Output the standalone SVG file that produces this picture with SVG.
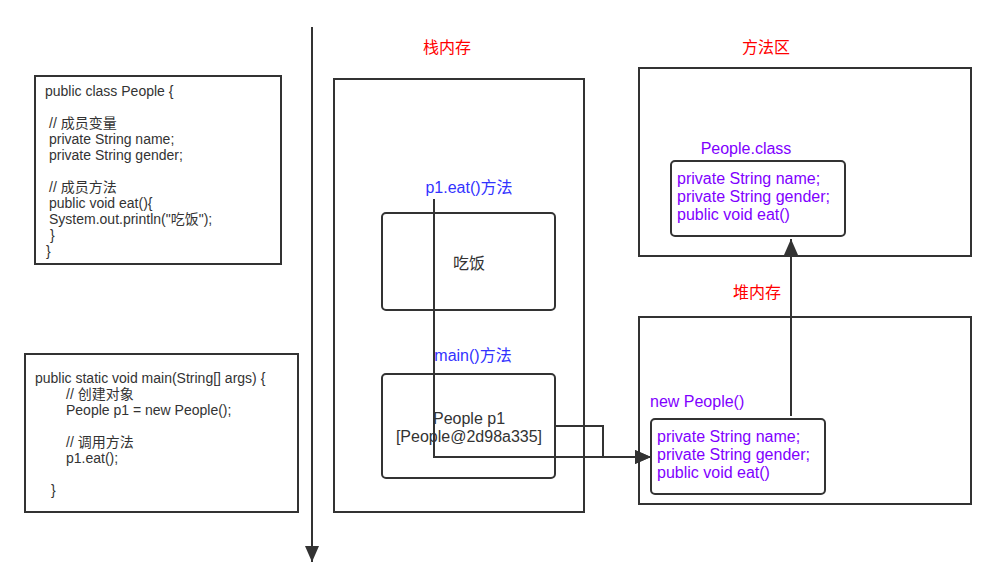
<svg xmlns="http://www.w3.org/2000/svg" width="996" height="587" viewBox="0 0 996 587">
<style>
.box{fill:#fff;stroke:#333;stroke-width:2}
.rbox{fill:#fff;stroke:#333;stroke-width:2}
.code{font-family:"Liberation Sans","Noto Sans CJK SC",sans-serif;font-size:14px;fill:#333}
.lbl{font-family:"Liberation Sans","Noto Sans CJK SC",sans-serif;font-size:16px}
.red{fill:#ff0000}
.blue{fill:#3333ff}
.pur{fill:#7f00ff}
.gray{fill:#333}
.conn{fill:none;stroke:#333;stroke-width:2}
</style>
<defs>
<marker id="ahb" viewBox="0 0 16 14" refX="16" refY="7" markerWidth="16" markerHeight="14" markerUnits="userSpaceOnUse" orient="auto">
<path d="M0,0 L16,7 L0,14 Z" fill="#333"/>
</marker>
</defs>

<g id="timeline">
<line x1="312" y1="27" x2="312" y2="562" class="conn" marker-end="url(#ahb)"/>
</g>

<g id="class-code">
<rect x="35" y="76" width="246" height="188" class="box"/>
<text class="code">
<tspan x="45" y="96">public class People {</tspan>
<tspan x="49" y="128">// 成员变量</tspan>
<tspan x="49" y="144">private String name;</tspan>
<tspan x="49" y="160">private String gender;</tspan>
<tspan x="49" y="192">// 成员方法</tspan>
<tspan x="49" y="208">public void eat(){</tspan>
<tspan x="49" y="224">System.out.println("吃饭");</tspan>
<tspan x="50" y="240">}</tspan>
<tspan x="46" y="256">}</tspan>
</text>
</g>

<g id="main-code">
<rect x="25" y="354" width="273" height="158" class="box"/>
<text class="code">
<tspan x="35" y="383">public static void main(String[] args) {</tspan>
<tspan x="66" y="399">// 创建对象</tspan>
<tspan x="66" y="415">People p1 = new People();</tspan>
<tspan x="66" y="447">// 调用方法</tspan>
<tspan x="66" y="463">p1.eat();</tspan>
<tspan x="51" y="495">}</tspan>
</text>
</g>

<g id="stack">
<text x="447" y="53" text-anchor="middle" class="lbl red">栈内存</text>
<rect x="334" y="79" width="250" height="433" class="box"/>
</g>

<g id="eat-frame">
<text x="469" y="193" text-anchor="middle" class="lbl blue">p1.eat()方法</text>
<rect x="382" y="213" width="173" height="97" rx="4" class="rbox"/>
<text x="469" y="269" text-anchor="middle" class="lbl gray">吃饭</text>
</g>

<g id="main-frame">
<text x="473" y="361" text-anchor="middle" class="lbl blue">main()方法</text>
<rect x="382" y="374" width="173" height="104" rx="4" class="rbox"/>
<text x="469" y="424" text-anchor="middle" class="lbl gray">People p1</text>
<text x="469" y="442" text-anchor="middle" class="lbl gray">[People@2d98a335]</text>
</g>

<g id="method-area">
<text x="766" y="53" text-anchor="middle" class="lbl red">方法区</text>
<rect x="639" y="68" width="332" height="188" class="box"/>
</g>

<g id="people-class">
<text x="746" y="154" text-anchor="middle" class="lbl pur">People.class</text>
<rect x="671" y="161" width="174" height="75" rx="4" class="rbox"/>
<text class="lbl pur">
<tspan x="677" y="184">private String name;</tspan>
<tspan x="677" y="202">private String gender;</tspan>
<tspan x="677" y="220">public void eat()</tspan>
</text>
</g>

<g id="heap">
<text x="757" y="298" text-anchor="middle" class="lbl red">堆内存</text>
<rect x="639" y="317" width="332" height="187" class="box"/>
</g>

<g id="people-object">
<text x="650" y="407" class="lbl pur">new People()</text>
<rect x="651" y="419" width="174" height="75" rx="4" class="rbox"/>
<text class="lbl pur">
<tspan x="657" y="442">private String name;</tspan>
<tspan x="657" y="460">private String gender;</tspan>
<tspan x="657" y="478">public void eat()</tspan>
</text>
</g>

<g id="connectors">
<polyline points="434,199 434,457 651,457" class="conn" marker-end="url(#ahb)"/>
<polyline points="555,426 603,426 603,457 651,457" class="conn" marker-end="url(#ahb)"/>
<line x1="791" y1="416" x2="791" y2="239" class="conn" marker-end="url(#ahb)"/>
</g>
</svg>
